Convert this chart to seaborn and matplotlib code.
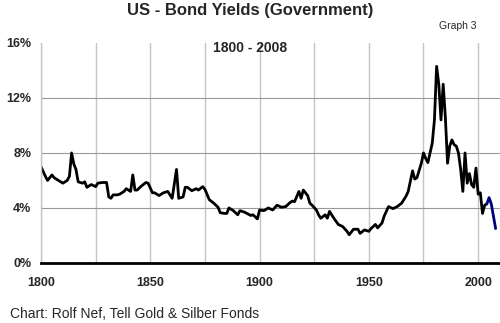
import matplotlib
matplotlib.use("Agg")
import matplotlib.pyplot as plt
import seaborn as sns
import pandas as pd

years = [1800, 1802, 1803, 1805, 1806, 1808, 1810, 1812, 1813, 1814, 1815, 1816, 1817, 1819,
         1820, 1821, 1823, 1825, 1826, 1828, 1830, 1831, 1832, 1833, 1835, 1836, 1838, 1839,
         1841, 1842, 1843, 1844, 1846, 1848, 1849, 1851, 1852, 1854, 1856, 1858, 1860, 1862,
         1863, 1865, 1866, 1867, 1869, 1871, 1872, 1874, 1875, 1877, 1879, 1881, 1882, 1884,
         1885, 1886, 1888, 1890, 1891, 1893, 1896, 1897, 1899, 1900, 1902, 1904, 1906, 1908,
         1910, 1912, 1914, 1915, 1916, 1918, 1919, 1920, 1922, 1923, 1924, 1926, 1927, 1928,
         1930, 1931, 1932, 1934, 1936, 1938, 1940, 1941, 1943, 1945, 1946, 1948, 1950, 1951,
         1953, 1954, 1956, 1957, 1959, 1961, 1963, 1965, 1967, 1968, 1970, 1971, 1972, 1974,
         1975, 1976, 1977, 1979, 1980, 1981, 1982, 1983, 1984, 1985, 1986, 1987, 1988, 1989,
         1990, 1991, 1992, 1993, 1994, 1995, 1996, 1997, 1998, 1999, 2000, 2001, 2002, 2003,
         2004]
yields = [7.0, 6.3, 6.0, 6.4, 6.2, 6.0, 5.8, 6.0, 6.3, 8.0, 7.2, 6.8, 5.9, 5.8,
          5.9, 5.5, 5.7, 5.55, 5.8, 5.85, 5.85, 4.8, 4.7, 4.95, 4.95, 5.0, 5.2, 5.4,
          5.2, 6.4, 5.3, 5.3, 5.6, 5.85, 5.8, 5.1, 5.1, 4.9, 5.1, 5.2, 4.7, 6.8,
          4.7, 4.8, 5.5, 5.5, 5.25, 5.4, 5.3, 5.55, 5.35, 4.6, 4.35, 4.05, 3.65, 3.6,
          3.6, 4.0, 3.8, 3.5, 3.8, 3.7, 3.45, 3.5, 3.2, 3.85, 3.8, 4.0, 3.85, 4.2,
          4.05, 4.1, 4.4, 4.5, 4.45, 5.2, 4.7, 5.3, 4.9, 4.35, 4.2, 3.85, 3.5, 3.25,
          3.5, 3.25, 3.75, 3.25, 2.8, 2.65, 2.3, 2.05, 2.45, 2.45, 2.15, 2.4, 2.3, 2.5,
          2.8, 2.55, 2.9, 3.4, 4.1, 3.95, 4.1, 4.35, 4.85, 5.2, 6.7, 6.1, 6.2, 7.25,
          8.0, 7.6, 7.3, 8.7, 10.4, 14.3, 13.0, 10.4, 13.0, 10.6, 7.25, 8.5, 8.95, 8.6,
          8.5, 8.0, 6.8, 5.2, 8.0, 5.8, 6.5, 5.7, 5.5, 6.9, 5.0, 5.1, 3.6, 4.2,
          4.3]
recent_years = [2004, 2005, 2006, 2008]
recent_yields = [4.3, 4.75, 4.3, 2.5]

x_ticks = [1800, 1825, 1850, 1875, 1900, 1925, 1950, 1975, 2000]
x_labels = ["1800", "", "1850", "", "1900", "", "1950", "", "2000"]
y_ticks = [0, 4, 8, 12, 16]
y_labels = ["0%", "4%", "8%", "12%", "16%"]

sns.set_style("white")
plt.rcParams["font.family"] = ["Liberation Sans", "DejaVu Sans"]

fig = plt.figure(figsize=(5.0, 3.23), dpi=100)
ax = fig.add_axes([0.082, 0.186, 0.918, 0.681])

df = pd.DataFrame({"year": years, "yield": yields})
df2 = pd.DataFrame({"year": recent_years, "yield": recent_yields})
sns.lineplot(data=df, x="year", y="yield", ax=ax, color="black", linewidth=2.0)
sns.lineplot(data=df2, x="year", y="yield", ax=ax, color="#000080", linewidth=2.0)

ax.set_xlim(1800, 2010)
ax.set_ylim(0, 16)
ax.set_xlabel("")
ax.set_ylabel("")

for xv in x_ticks:
    ax.axvline(xv, color="#c4c4c4", linewidth=1.0, zorder=0)
for yv in [4, 8, 12]:
    ax.axhline(yv, color="#999999", linewidth=0.8, zorder=0)

ax.set_xticks(x_ticks)
ax.set_xticklabels(x_labels, fontsize=9, fontweight="bold")
ax.set_yticks(y_ticks)
ax.set_yticklabels(y_labels, fontsize=9, fontweight="bold")

for s in ["top", "right"]:
    ax.spines[s].set_visible(False)
ax.spines["left"].set_color("#c4c4c4")
ax.spines["left"].set_linewidth(1.0)
ax.spines["bottom"].set_color("black")
ax.spines["bottom"].set_linewidth(2.0)
ax.spines["bottom"].set_zorder(5)

ax.tick_params(axis="x", direction="out", length=5, width=2, color="black", pad=5)
ax.tick_params(axis="y", direction="out", length=4, width=0.8, color="#999999", pad=3)

fig.text(0.5, 0.969, "US - Bond Yields (Government)", ha="center", va="center",
         fontsize=12, fontweight="bold")
fig.text(0.915, 0.92, "Graph 3", ha="center", va="center", fontsize=7.5)
ax.text(1895.5, 15.6, "1800 - 2008", ha="center", va="center", fontsize=10, fontweight="bold")
fig.text(0.02, 0.028, "Chart: Rolf Nef, Tell Gold & Silber Fonds", ha="left", va="center",
         fontsize=10)

fig.savefig("out.png", dpi=100)
